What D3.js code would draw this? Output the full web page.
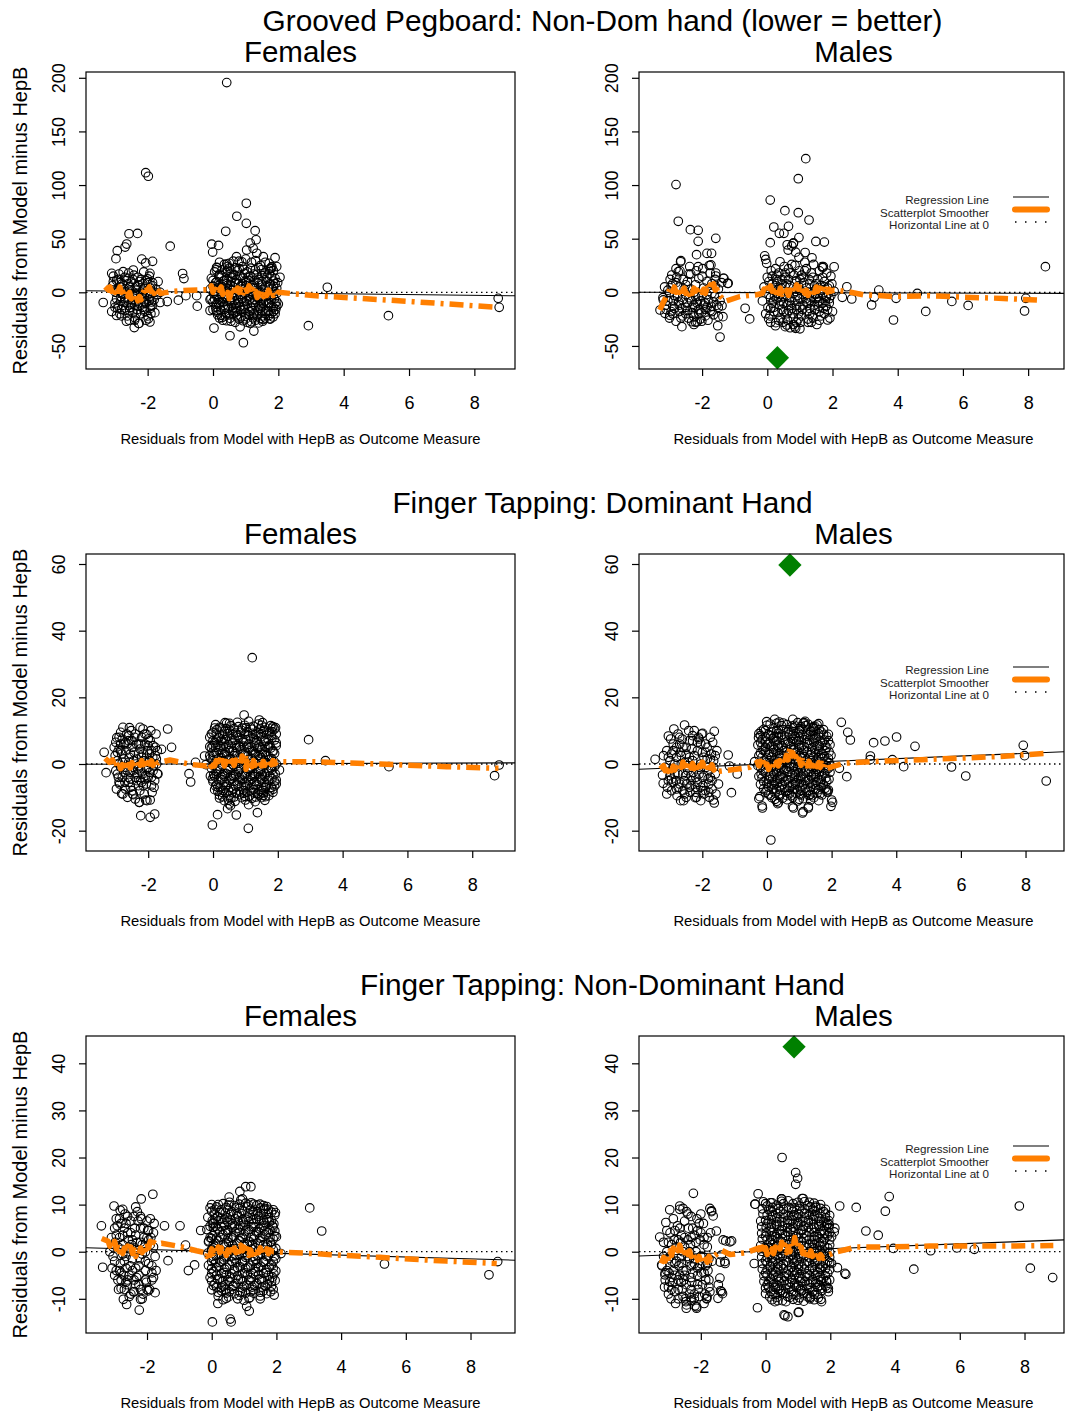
<!DOCTYPE html>
<html>
<head>
<meta charset="utf-8">
<script src="https://cdn.jsdelivr.net/npm/d3@7"></script>
<style>
  body { margin: 0; background: #fff; }
  svg { display: block; }
</style>
</head>
<body>
<svg id="fig" width="1065" height="1414"></svg>
<script>
// ---------- labels and ticks ----------
const rowTitles = [
  "Grooved Pegboard: Non-Dom hand (lower = better)",
  "Finger Tapping: Dominant Hand",
  "Finger Tapping: Non-Dominant Hand"
];
const sexLabels = ["Females", "Males"];
const yTitle = "Residuals from Model minus HepB";
const xTitle = "Residuals from Model with HepB as Outcome Measure";
const legendLabels = ["Regression Line", "Scatterplot Smoother", "Horizontal Line at 0"];
const xTicks = [-2, 0, 2, 4, 6, 8];
const pegTicks = [-50, 0, 50, 100, 150, 200];
const tapDomTicks = [-20, 0, 20, 40, 60];
const tapNonTicks = [-10, 0, 10, 20, 30, 40];

// ---------- Grooved Pegboard, females ----------
const femPegPts = [
  [-3.08,6],[-2.95,11],[-2.9,2],[-2.82,-4],[-2.78,8],[-2.7,14],[-2.66,0],[-2.6,-8],[-2.55,5],[-2.5,10],[-2.47,-3],[-2.4,-12],[-2.36,2],[-2.3,7],[-2.25,-6],[-2.2,12],[-2.16,-1],[-2.1,4],[-2.05,-10],[-2.0,9],[-1.95,-4],[-1.9,1],[-1.85,6],[-1.8,-7],[-1.75,3],[-1.7,-2],[-1.68,10],
  [-3.0,-10],[-2.92,-15],[-2.85,-20],[-2.75,-12],[-2.7,-17],[-2.62,-22],[-2.52,-14],[-2.45,-19],[-2.38,-24],[-2.32,-16],[-2.22,-20],[-2.15,-14],[-2.08,-18],[-2.0,-22],[-1.92,-15],[-1.85,-12],[-1.78,-19],
  [-3.05,15],[-2.88,17],[-2.58,18],[-2.42,16],[-2.12,19],[-1.95,15],[-2.65,-27],[-2.28,-29],
  [-2.98,0],[-2.72,3],[-2.48,-7],[-2.28,-10],[-2.05,0],[-1.88,-9],[-2.55,-1],[-2.82,-8],
  [-2.9,12],[-2.6,13],[-2.3,14],[-2.0,12.5],[-2.85,5],[-2.6,8],[-2.35,5],[-2.15,8],[-1.92,4],[-2.95,-6],[-2.7,-6],[-2.4,-4],[-2.15,-5],[-1.95,-7.5],[-3.0,-14],[-2.8,-16],[-2.55,-17],[-2.35,-20],[-2.1,-16],[-1.9,-20],[-2.8,-1],[-2.4,-1],[-2.1,-4],[-2.6,-12],[-2.2,-12],
  [-3.05,10],[-2.85,9],[-2.65,11],[-2.45,12],[-2.25,10],[-2.05,11],[-1.85,9],[-2.95,2],[-2.75,-2],[-2.55,2],[-2.35,-2],[-2.15,2],[-1.95,-1],[-1.78,0],[-2.9,-12],[-2.7,-9],[-2.5,-11],[-2.3,-13],[-2.1,-9],[-1.9,-13],[-2.8,-22],[-2.4,-26],[-2.05,-26],
  [0.35,26],[0.62,29],[0.9,24],[1.18,28],[1.45,25],[1.72,27],[1.0,31],
  [0.05,19],[0.28,21],[0.55,18],[0.8,22],[1.05,19],[1.3,21],[1.58,18],[1.85,20],[1.95,24],
  [-0.05,13],[0.18,15],[0.42,12],[0.68,16],[0.92,13],[1.15,15],[1.4,12],[1.65,14],[1.9,13],
  [0.08,9],[0.3,7],[0.55,10],[0.78,8],[1.02,9],[1.25,7],[1.5,10],[1.75,8],[1.98,9],
  [-0.08,3],[0.15,4],[0.38,2],[0.62,5],[0.88,3],[1.1,4],[1.35,2],[1.6,5],[1.82,3],
  [0.02,-1],[0.25,-2],[0.5,0],[0.72,-3],[0.98,-1],[1.22,-2],[1.45,0],[1.7,-3],[1.95,-1],
  [-0.06,-6],[0.18,-7],[0.4,-5],[0.65,-8],[0.9,-6],[1.12,-7],[1.38,-5],[1.62,-8],[1.88,-6],
  [0.1,-11],[0.32,-12],[0.58,-10],[0.82,-13],[1.05,-11],[1.3,-12],[1.55,-10],[1.78,-13],[2.0,-11],
  [0.0,-16],[0.24,-17],[0.48,-15],[0.74,-18],[0.96,-16],[1.2,-17],[1.45,-15],[1.7,-18],[1.92,-16],
  [0.14,-21],[0.38,-22],[0.62,-20],[0.86,-23],[1.1,-21],[1.35,-22],[1.6,-20],[1.84,-23],
  [0.3,-26],[0.55,-27],[0.8,-25],[1.05,-28],[1.3,-26],[1.52,-27],[1.75,-25],
  [0.45,24],[0.75,20],[1.1,11],[0.3,-9],[1.4,-4],[0.85,6],[1.6,-24],[0.2,-24],[1.9,-20],[1.25,17],[0.6,14],[1.5,-13],[0.7,-15],[0.95,-9],[1.15,1],[0.35,11],
  [0.12,23],[0.5,22.5],[0.95,21.5],[1.4,23],[1.75,22],[0.2,17],[0.62,16.5],[0.98,17.5],[1.35,16.8],[1.72,17.2],[0.4,18.5],
  [0.0,11],[0.32,10.5],[0.72,11.8],[1.0,10.8],[1.28,11.2],[1.6,11.6],[1.85,10.5],[0.15,6],[0.45,6.5],[0.88,5.5],[1.2,6.2],[1.5,6.8],[1.85,5.8],
  [0.05,1],[0.28,0.5],[0.58,1.8],[0.8,0.3],[1.05,1.5],[1.32,-0.3],[1.58,1.2],[1.88,0.6],[0.12,-4],[0.35,-3.5],[0.6,-4.8],[0.85,-3.8],[1.08,-4.2],[1.5,-3.6],[1.78,-4.5],
  [0.0,-9],[0.22,-9.5],[0.5,-8.5],[0.78,-9.8],[1.2,-9.2],[1.45,-8.2],[1.72,-9.6],[1.95,-8.8],[0.08,-14],[0.38,-13.8],[0.62,-14.5],[0.92,-13.5],[1.18,-14.8],[1.4,-13],[1.85,-14.2],
  [0.12,-18.5],[0.42,-19.5],[0.68,-18.8],[1.0,-19.2],[1.25,-19.8],[1.5,-18.2],[1.78,-19.5],[0.28,-23.5],[0.52,-24.2],[0.75,-23],[1.0,-24.8],[1.22,-23.8],[1.45,-24.5],
  [0.2,28],[0.5,27],[0.8,29],[1.3,29.5],[1.6,28],[0.1,21],[0.45,20.5],[0.68,23],[1.15,22.5],[1.48,21],[1.8,22.5],
  [0.25,15.5],[0.52,14.5],[0.82,15.2],[1.08,13.8],[1.5,15.5],[1.78,15],[0.12,10],[0.42,8.2],[0.68,9.2],[0.9,8],[1.38,8.5],[1.65,9.8],[1.9,8],
  [0.0,5.5],[0.25,5.5],[0.52,3.5],[0.75,2.2],[1.0,6.2],[1.28,4.5],[1.72,5.2],[1.95,3.8],[0.12,-1.8],[0.4,-2.2],[0.62,-0.8],[0.88,-1.9],[1.12,-0.5],[1.38,-2.8],[1.62,-1.2],[1.85,-2.2],
  [0.05,-6.5],[0.3,-5.8],[0.55,-6.8],[0.78,-6.2],[1.02,-7.8],[1.28,-6.8],[1.52,-6.2],[1.78,-7],[0.18,-11.5],[0.45,-12.5],[0.7,-11],[0.98,-12.8],[1.22,-11],[1.48,-11.8],[1.7,-10.8],[1.95,-13],
  [0.1,-17],[0.35,-16],[0.6,-17.5],[0.85,-16.5],[1.12,-18],[1.38,-16.8],[1.62,-17.2],[1.85,-18],[0.25,-21.5],[0.5,-21],[0.72,-21.8],[0.98,-22.5],[1.25,-21],[1.5,-22],[1.72,-21.5],
  [0.42,-26.5],[0.68,-28],[0.92,-26.5],[1.18,-27.5],[1.4,-28.5],
  [0.42,195.5],[-2.06,111.5],[-1.98,108.2],[1.02,83],[0.73,70.9],[1.02,64.3],[0.39,56.9],[1.29,57.5],[1.32,49],[1.14,45.9],[-0.04,44.9],[-0.01,37.5],[0.17,43.7],
  [-2.57,54.6],[-2.31,54.9],[-2.64,45],[-2.69,42.2],[-2.93,38.8],[-2.97,31.4],[-1.31,43],[-2.18,31],[-1.85,28.9],[-2.06,27.4],[-0.93,17.5],[-0.89,12.8],
  [3.5,4.7],[2.05,14],[1.9,32.3],[1.77,22.4],[8.73,-5.6],[8.76,-14],[5.37,-21.8],[2.92,-31.1],[0.03,-33.3],[0.52,-40.5],[0.93,-47],[1.25,-36.1],
  [-2.41,-32.9],[-3.36,-9.5],[-0.48,-12.9],[-1.06,-7.3],[-1.4,-8.6],[-1.62,-9.5],[-0.83,-3.1],[-0.5,-3.1],[-0.09,-6.8],[-0.09,-17],
  [-1.93,-27.7],[-1.98,-24.6],[-2.26,-29],[-2.56,-26],[-2.95,-21.6],[-3.1,-18],[1.74,-24.6],[1.9,-10.3],[1.54,-25.3],[0.83,-32.2],[1.14,-29],[-1.62,0],
  [-3.1,17.7],[-2.75,19.2],[-2.44,20.8],[-1.93,17.7],[0.42,26.4],[0.11,23.3],[1.54,33.2],[1.34,36.4],[1.23,41],[1.03,39.4],[0.72,33.2],[0.88,28.5],[1.69,20.8],[1.8,23.9]
];
const femPegFit = [0.1, -0.36];
const femPegSmooth = [
  [-3.3,5.2],[-3.2,2],[-3.15,5],[-3.1,1],[-3.05,4],[-3.0,0],[-2.95,4],[-2.9,1],[-2.85,5],[-2.8,0],[-2.75,3],[-2.7,-2],[-2.65,2],[-2.6,-4],[-2.55,0],[-2.5,-6],[-2.45,-2],[-2.4,-7],[-2.35,-3],[-2.3,-8],[-2.25,-4],[-2.2,-7],[-2.15,-1],[-2.1,2],[-2.05,6],[-2.0,2],[-1.95,5],[-1.9,1],[-1.85,4],[-1.8,-1],[-1.75,2],[-1.7,-2],[-1.65,1],[-1.6,-1],
  [-1.2,1],[-0.7,2],[-0.2,2.5],
  [-0.1,2],[-0.05,6],[0,0],[0.05,5],[0.1,1],[0.15,6],[0.2,2],[0.25,5],[0.3,-2],[0.35,3],[0.4,-4],[0.45,0],[0.5,-6],[0.55,-1],[0.6,-4],[0.65,2],[0.7,-2],[0.75,4],[0.8,0],[0.85,3],[0.9,-3],[0.95,2],[1.0,5],[1.05,1],[1.1,6],[1.15,0],[1.2,3],[1.25,-2],[1.3,1],[1.35,-5],[1.4,-1],[1.45,-5],[1.5,-2],[1.55,-4],[1.6,1],[1.65,-3],[1.7,2],[1.75,-2],[1.8,1],[1.85,-3],[1.9,0],[1.95,-2],[2.0,0],
  [3.06,-3],[6.12,-8.7],[8.72,-14]
];

// ---------- Grooved Pegboard, males ----------
const malePegPts = [
  [-3.2,-5],[-3.1,-12],[-3.05,2],[-2.95,-18],[-2.9,8],[-2.85,-3],[-2.78,14],[-2.72,-9],[-2.68,20],[-2.6,-22],[-2.55,3],[-2.5,-14],[-2.45,10],[-2.4,-5],[-2.35,17],[-2.3,-19],[-2.25,0],[-2.2,7],[-2.15,-10],[-2.1,13],[-2.05,-25],[-2.0,-3],[-1.95,4],[-1.9,-16],[-1.85,10],[-1.8,-7],[-1.75,18],[-1.7,-1],[-1.65,-21],[-1.6,6],[-1.55,-12],[-1.5,3],[-1.45,-8],[-1.4,9],
  [-3.0,-24],[-2.8,-27],[-2.62,-15],[-2.42,-24],[-2.22,-14],[-2.02,-19],[-1.82,-26],[-1.62,-4],
  [-3.15,5],[-2.98,12],[-2.8,22],[-2.58,12],[-2.38,24],[-2.18,20],[-1.98,22],[-1.78,25],[-1.58,18],
  [-2.88,-8],[-2.7,5],[-2.5,-2],[-2.32,-8],[-2.12,-4],[-1.92,-10],[-1.72,-13],[-2.62,-32],[-2.25,-30],
  [-3.0,0],[-2.75,-4],[-2.5,7],[-2.25,-12],[-2.0,15],[-1.75,-17],[-1.5,-14],[-2.9,-13],[-2.6,-7],[-2.35,3],[-2.1,-20],[-1.85,-2],[-1.6,12],[-2.95,6],[-2.7,-18],[-2.45,-17],[-2.2,-4],[-1.95,-12],[-1.7,8],[-2.4,17],[-2.8,9],[-3.1,-16],
  [-2.9,-20],[-2.7,-12],[-2.5,-20],[-2.3,-14],[-2.1,-16],[-1.9,-22],[-1.7,-18],[-3.05,-8],[-2.85,-15],[-2.65,-24],[-2.45,-10],[-2.25,-23],[-2.05,-8],[-1.85,-14],[-1.65,-9],
  [-0.15,-8],[-0.1,5],[-0.05,-20],[0.0,14],[0.05,-2],[0.1,-28],[0.15,8],[0.2,-14],[0.25,22],[0.3,-6],[0.35,1],[0.4,-24],[0.45,12],[0.5,-10],[0.55,18],[0.6,-3],[0.65,-17],[0.7,6],[0.75,26],[0.8,-30],[0.85,-7],[0.9,11],[0.95,-20],[1.0,2],[1.05,16],[1.1,-12],[1.15,-1],[1.2,22],[1.25,-25],[1.3,8],[1.35,-5],[1.4,14],[1.45,-16],[1.5,3],[1.55,-9],[1.6,20],[1.65,-22],[1.7,-2],[1.75,10],[1.8,-13],[1.85,4],[1.9,-6],[1.95,15],[2.0,-18],[2.05,1],
  [0.02,-14],[0.12,20],[0.22,-4],[0.32,-19],[0.42,4],[0.52,24],[0.62,-26],[0.72,-12],[0.82,16],[0.92,-3],[1.02,-28],[1.12,9],[1.22,-18],[1.32,-8],[1.42,26],[1.52,-30],[1.62,6],[1.72,-15],[1.82,18],[1.92,-24],
  [0.08,-22],[0.18,2],[0.28,12],[0.38,-12],[0.48,-28],[0.58,8],[0.68,-8],[0.78,-20],[0.88,3],[0.98,20],[1.08,-16],[1.18,-6],[1.28,12],[1.38,-22],[1.48,-2],[1.58,-13],[1.68,24],[1.78,-8],[1.88,-1],[1.98,8],
  [0.3,16],[0.55,-32],[0.85,25],[1.15,28],[1.35,-28],[0.7,-33],[1.0,-34],[0.45,-16],[1.6,-26],[0.15,-10],[0.95,6],[1.25,0],[0.65,0],[1.55,12],
  [0.05,10],[0.3,-1],[0.55,5],[0.75,-15],[1.0,12],[1.25,-10],[1.5,8],[1.75,-20],[1.95,-3],[0.2,-18],[0.45,8],[0.7,18],[0.95,-25],[1.2,4],[1.45,-12],[1.7,14],[1.9,-10],[0.15,15],[0.4,-8],[0.6,-20],
  [0.85,10],[1.1,-2],[1.35,18],[1.6,-8],[1.85,-16],[0.1,-5],[0.35,-26],[0.65,12],[0.9,-12],[1.15,20],[1.4,-24],[1.65,2],[1.0,-6],[0.5,-4],[1.3,-15],[0.25,6],[0.8,-1],[1.55,-4],[1.75,5],[0.55,14],
  [0.1,-15],[0.3,10],[0.5,-18],[0.7,-5],[0.9,-16],[1.1,14],[1.3,-20],[1.5,-6],[1.7,-10],[1.9,6],[0.2,-8],[0.4,-2],[0.6,-12],[0.8,-24],[1.0,-14],[1.2,-9],[1.4,-1],[1.6,-18],[1.8,-4],[0.35,18],[0.65,22],[1.05,-22],[1.45,6],[1.25,-28],[0.9,-28],
  [1.18,124.6],[0.95,105.9],[-2.8,100.4],[0.09,86],[0.54,76.1],[0.95,74.2],[1.28,67.4],[-2.73,66.2],[0.2,60.9],[0.65,61.5],[0.37,55],[0.51,55],[0.97,51],[0.09,46.3],[1.49,47.4],[1.75,46.8],[0.61,44.3],[0.8,46],[0.87,37.4],[1.16,37.1],[1.37,32.2],
  [-2.36,58.4],[-2.12,57.8],[-2.12,47.5],[-1.58,50.3],[-2.17,35.1],[-1.85,36.3],[-1.71,36.3],[-2.65,29.5],[-0.08,34],[-0.05,30.7],[1.7,23],[2.05,23.8],[2.44,5.2],
  [3.42,2.1],[4.6,-1],[3.2,-11.8],[3.87,-25.8],[4.86,-17.8],[5.66,-8.5],[6.16,-12.2],[7.93,-5.6],[7.89,-17.4],[8.53,23.9],[3.95,-5.6],[3.28,-4.7],[2.59,-6.2],[2.3,-4.7],[1.85,-25.8],
  [-0.68,-14.9],[-0.54,-24.8],[-1.45,-41.7],[-1.52,-31.2],[-3.19,-7.1],[-2.99,-21.4],[-2.2,-27.9],[-2.01,-27],[-1.36,-22.7],[-1.39,-12.5],[-1.22,8.3],[-1.35,13],[-1.58,15.2],[0.25,-31.2],[0.84,-32.2],[0.04,-24.5],[1.81,-5],
  [-2.66,28.5],[-1.73,25.5],[-2.93,16.1],[-2.73,19.2],[-2.12,23.9],[-1.33,13],[-1.2,8.4],[-1.5,-22.7],[-3.29,-16.5],[-3.14,-19.6],[-2.32,-27.4],[-2.15,-27.4],[0.75,43.2],[0.8,45.5],[0.64,39.4],[0.97,32.6],[-0.02,27],[0.39,28.5],[1.72,23.9],[0.6,-30.5],[0.87,-33.6],[0.26,-28.3]
];
const malePegFit = [-0.3, -0.08];
const malePegSmooth = [
  [-3.3,-16.5],[-3.2,-10],[-3.1,-4],[-3.0,2],[-2.95,5],[-2.9,1],[-2.85,5],[-2.8,0],[-2.75,4],[-2.7,0],[-2.65,5],[-2.6,1],[-2.55,4],[-2.5,-1],[-2.45,3],[-2.4,-2],[-2.35,2],[-2.3,-1],[-2.25,4],[-2.2,1],[-2.15,5],[-2.1,0],[-2.05,4],[-2.0,0],[-1.95,3],[-1.9,-1],[-1.85,4],[-1.8,2],[-1.75,7],[-1.7,3],[-1.65,8],[-1.6,2],[-1.55,3],[-1.5,-2],[-1.4,-5],[-1.3,-8.5],
  [-0.84,-3.9],[-0.33,-2.3],
  [-0.15,-1],[-0.1,3],[-0.05,-1],[0.0,4],[0.05,0],[0.1,6],[0.15,1],[0.2,5],[0.25,0],[0.3,4],[0.35,-1],[0.4,4],[0.45,-2],[0.5,3],[0.55,-2],[0.6,2],[0.65,-3],[0.7,2],[0.75,-2],[0.8,4],[0.85,1],[0.9,7],[0.95,3],[1.0,8],[1.05,2],[1.1,5],[1.15,-1],[1.2,2],[1.25,-3],[1.3,1],[1.35,-2],[1.4,3],[1.45,0],[1.5,5],[1.55,1],[1.6,4],[1.65,0],[1.7,3],[1.75,0],[1.8,3],[1.85,0],[1.9,3],[1.95,1],[2.05,2],
  [2.43,0.8],[2.95,-2.3],[3.87,-3.9],[4.99,-3.2],[6.01,-4.5],[7.24,-5.7],[8.42,-7.5]
];
const malePegMark = [0.31, -61];

// ---------- Finger Tapping dominant, females ----------
const femTapDomPts = [
  [-3.05,5],[-3.0,-2],[-2.95,1],[-2.9,8],[-2.88,-6],[-2.82,3],[-2.78,-9],[-2.75,6],[-2.7,-1],[-2.66,9],[-2.62,-4],[-2.58,2],[-2.55,-7],[-2.5,5],[-2.46,-2],[-2.42,8],[-2.38,0],[-2.35,-5],[-2.3,3],[-2.26,-8],[-2.22,6],[-2.18,-3],[-2.14,1],[-2.1,9],[-2.06,-6],[-2.02,4],[-1.98,-1],[-1.94,7],[-1.9,-4],[-1.86,2],[-1.82,-7],[-1.78,5],[-1.74,0],[-1.7,-3],
  [-3.02,2.5],[-2.92,-4],[-2.8,0.5],[-2.68,4],[-2.56,-2.5],[-2.44,3.5],[-2.32,-1.5],[-2.2,2],[-2.08,-3.5],[-1.96,3],[-1.84,-0.5],[-1.72,4],
  [-2.98,-7.5],[-2.85,9.5],[-2.72,-5.5],[-2.6,7],[-2.48,-9],[-2.36,6],[-2.24,-5],[-2.12,-9],[-2.0,7.5],[-1.88,-8.5],[-1.76,9],
  [-2.9,4.5],[-2.64,-10],[-2.4,-10.5],[-2.16,10.5],[-1.92,10],[-2.78,11],[-2.52,10],[-2.28,-11.5],[-2.04,-11],
  [-3.0,6.5],[-2.85,4],[-2.65,6],[-2.45,1],[-2.25,4.5],[-2.05,2],[-1.85,5.5],[-2.95,-3],[-2.75,-2.5],[-2.55,-4.5],[-2.35,-3],[-2.15,-6.5],[-1.95,-2.5],[-1.8,-5],[-2.9,-5.5],
  [-2.7,-7.5],[-2.5,-8],[-2.3,-6.5],[-2.1,-4.5],[-1.9,-6.5],[-2.8,7.5],[-2.6,8.5],[-2.4,9],[-2.2,8],[-2.0,5.5],[-2.9,0],[-2.6,0.5],[-2.3,-0.5],[-2.0,0.5],[-1.75,1.5],
  [-2.95,3.5],[-2.75,1.5],[-2.55,3],[-2.35,1.5],[-2.15,3],[-1.95,1],[-1.78,2.5],[-2.85,-1],[-2.65,-2],[-2.45,-1],[-2.25,-2],[-2.05,-1.5],[-1.85,-2],[-2.8,-4],[-2.6,-5.5],[-2.4,-4],[-2.2,-5.5],[-2.0,-4],[-2.7,6.5],[-2.5,7],[-2.3,6],[-2.1,6],[-1.9,4],[-2.85,6],
  [0.2,11],[0.55,11.5],[0.9,10.8],[1.25,11.3],[1.6,11],[0.75,12.5],[1.1,12.8],
  [0.0,9.5],[0.35,9.8],[0.7,9.3],[1.05,9.7],[1.4,9.2],[1.75,9.6],[1.9,10.5],
  [-0.1,8],[0.18,7.8],[0.45,8.3],[0.8,8],[1.15,7.7],[1.5,8.2],[1.82,7.9],
  [0.05,6.4],[0.3,6.7],[0.6,6.3],[0.95,6.6],[1.3,6.4],[1.62,6.8],[1.95,6.3],
  [-0.05,4.8],[0.22,5.1],[0.5,4.7],[0.82,5.2],[1.12,4.9],[1.45,5.1],[1.78,4.8],
  [0.1,3.3],[0.38,3.6],[0.68,3.2],[1.0,3.5],[1.3,3.3],[1.6,3.6],[1.9,3.2],
  [-0.08,1.7],[0.25,1.9],[0.55,1.6],[0.85,2.0],[1.18,1.7],[1.48,1.9],[1.8,1.6],
  [0.05,0.2],[0.38,0.4],[0.7,0.0],[1.02,0.3],[1.32,0.1],[1.65,0.4],[1.95,0.0],
  [-0.05,-1.3],[0.22,-1.5],[0.52,-1.2],[0.85,-1.6],[1.15,-1.3],[1.45,-1.5],[1.78,-1.2],
  [0.1,-3.1],[0.4,-2.8],[0.7,-3.2],[1.0,-2.9],[1.3,-3.1],[1.6,-2.8],[1.92,-3.0],
  [-0.02,-4.5],[0.28,-4.7],[0.58,-4.4],[0.9,-4.8],[1.2,-4.5],[1.5,-4.7],[1.82,-4.4],
  [0.12,-6.1],[0.42,-6.3],[0.75,-6.0],[1.05,-6.4],[1.35,-6.1],[1.65,-6.3],[1.95,-6.0],
  [0.05,-7.7],[0.32,-7.9],[0.62,-7.6],[0.95,-8.0],[1.25,-7.7],[1.55,-7.9],[1.85,-7.6],
  [0.2,-9.3],[0.5,-9.5],[0.82,-9.2],[1.12,-9.6],[1.42,-9.3],[1.72,-9.5],
  [0.35,-11],[0.68,-11.2],[1.0,-10.8],[1.3,-11.3],[1.6,-10.9],
  [0.12,10.3],[0.5,10.2],[0.88,10.1],[1.22,10.4],[1.58,10.2],[0.3,8.9],[0.62,8.8],[0.98,8.9],[1.32,8.7],[1.65,8.9],[0.15,5.9],[0.48,5.8],[0.78,5.7],[1.1,5.9],[1.42,5.8],[1.75,5.7],
  [0.02,2.6],[0.35,2.7],[0.65,2.5],[0.98,2.6],[1.3,2.8],[1.62,2.5],[0.18,-0.6],[0.5,-0.7],[0.82,-0.5],[1.15,-0.8],[1.5,-0.6],[1.8,-0.5],
  [0.05,-3.8],[0.35,-3.7],[0.65,-3.9],[0.98,-3.6],[1.28,-3.8],[1.6,-3.7],[0.22,-6.9],[0.55,-7.0],[0.88,-6.8],[1.2,-7.1],[1.5,-6.9],[1.8,-7.0],[0.4,-8.6],[0.72,-8.7],[1.05,-8.5],[1.38,-8.8],
  [0.08,11.8],[0.42,12.2],[0.98,11.6],[1.4,12],[1.78,11.5],[0.25,10.8],[0.65,10.6],[1.02,10.9],[1.45,10.5],[1.82,10.7],[-0.05,9],[0.52,9.3],[0.85,9.5],[1.22,9.2],[1.55,9.7],[1.95,9],
  [0.1,7.2],[0.38,7.4],[0.68,7.1],[1.02,7.3],[1.35,7],[1.7,7.4],[0.0,5.5],[0.32,5.3],[0.68,5.6],[0.95,5.4],[1.28,5.6],[1.6,5.3],[1.95,5.5],[0.18,4.1],[0.5,4.0],[0.85,4.3],[1.18,4.1],[1.5,4.3],[1.85,4.0],
  [-0.1,2.5],[0.42,2.4],[0.75,2.6],[1.08,2.4],[1.42,2.6],[1.72,2.3],[0.0,1.0],[0.3,1.0],[0.62,0.8],[0.95,1.1],[1.25,0.9],[1.58,1.1],[1.88,0.8],[0.1,-2.2],[0.45,-2.0],[0.78,-2.3],[1.08,-2.1],[1.4,-2.3],[1.72,-2.0],
  [-0.08,-3.6],[0.25,-3.9],[0.55,-3.6],[0.82,-4.0],[1.15,-3.7],[1.45,-3.9],[1.75,-3.6],[0.0,-5.3],[0.35,-5.5],[0.65,-5.2],[0.98,-5.5],[1.28,-5.3],[1.58,-5.5],[1.9,-5.2],[0.15,-7.0],[1.62,-7.1],
  [0.28,-8.5],[0.6,-8.4],[0.95,-8.8],[1.25,-8.6],[1.55,-8.7],[1.85,-8.5],[0.2,-10.2],[0.55,-10.4],[0.88,-10.1],[1.2,-10.3],[1.5,-10.1],[0.5,-12],[1.1,-12.2],
  [0.05,10.8],[0.4,10.6],[0.78,11.2],[1.15,11.0],[1.5,11.6],[1.85,11.2],[0.1,9.0],[0.45,9.1],[0.75,8.6],[1.1,8.5],[1.45,8.8],[1.8,8.6],
  [0.0,7.0],[0.25,7.1],[0.58,7.6],[0.9,7.4],[1.25,7.5],[1.58,7.0],[1.9,7.2],[0.08,5.0],[0.4,5.3],[0.72,4.9],[1.05,5.0],[1.38,4.7],[1.7,5.2],
  [0.0,3.6],[0.3,3.2],[0.6,3.8],[0.92,3.0],[1.22,3.7],[1.52,3.0],[1.85,3.7],[0.12,1.4],[0.45,1.2],[0.78,1.4],[1.1,1.3],[1.42,1.5],[1.72,1.2],
  [0.0,-0.4],[0.28,-0.2],[0.62,-0.3],[0.95,-0.2],[1.25,-0.4],[1.58,-0.2],[1.9,-0.8],[0.15,-1.9],[0.48,-1.6],[0.8,-1.8],[1.12,-1.6],[1.48,-1.9],[1.82,-1.7],
  [0.02,-3.3],[0.3,-3.2],[0.62,-3.4],[0.9,-3.3],[1.22,-3.4],[1.52,-3.3],[1.85,-3.2],[0.18,-5.0],[0.5,-4.9],[0.8,-5.1],[1.1,-4.9],[1.42,-5.2],[1.72,-4.9],
  [0.08,-6.6],[0.38,-6.8],[0.7,-6.6],[1.0,-6.8],[1.3,-6.6],[1.62,-6.7],[1.9,-6.6],[0.15,-8.2],[0.48,-8.0],[0.82,-8.3],[1.15,-8.1],[1.45,-8.2],[1.75,-8.1],
  [0.3,-9.8],[0.65,-9.9],[0.98,-9.7],[1.32,-9.9],[1.62,-9.8],
  [1.21,31.9],[0.96,14.7],[-1.4,10.5],[2.95,7.3],[3.47,1],[5.43,-0.8],[8.83,-0.3],[8.69,-3.5],[-0.74,-2.9],[-0.69,-5.4],[-0.54,0.5],[-0.22,-0.2],[-3.36,3.5],[-3.3,-2.6],
  [-0.02,-18.3],[0.14,-15.2],[0.45,-13.4],[0.72,-15.3],[1.09,-19.3],[1.37,-14.6],[0.48,-10.8],[0.54,-12.5],[1.55,-9.4],
  [-2.23,-15.5],[-1.94,-16],[-1.8,-15],[-2.27,-11.5],[-2.08,-10.8],[-1.94,-10.8],[-2.46,-9.2],[-2.82,-8.9],
  [-2.58,10.9],[-2.25,11],[-2.05,8.9],[-2.97,7.9],[-1.28,5],[-1.59,4.4],[-1.72,-2.9],
  [0.37,12.4],[0.51,12.2],[1.43,13.2],[1.53,12.4],[1.93,10.9],[1.82,9.7],[0.17,8],[-0.1,5.2],[-0.26,2.4],[2.05,-1.8],[1.95,-4.8]
];
const femTapDomFit = [0.05, 0.03];
const femTapDomSmooth = [
  [-3.33,1.7],[-3.2,0.5],[-3.1,1.2],[-3.05,-0.4],[-3.0,0.6],[-2.95,-1],[-2.9,0.2],[-2.85,-1.4],[-2.8,-0.2],[-2.75,-1.8],[-2.7,-0.4],[-2.65,-1.6],[-2.6,-0.2],[-2.55,-1.2],[-2.5,0.4],[-2.45,-0.8],[-2.4,0.6],[-2.35,-0.6],[-2.3,0.8],[-2.25,-0.4],[-2.2,1],[-2.15,-0.2],[-2.1,1.4],[-2.05,0.2],[-2.0,1.4],[-1.95,0],[-1.9,1],[-1.85,-0.4],[-1.8,0.6],[-1.75,-0.4],[-1.7,0.4],
  [-1.33,1.2],[-0.71,-0.1],[-0.2,-0.6],
  [-0.1,0.4],[-0.05,-0.8],[0.0,0.8],[0.05,-0.6],[0.1,1.0],[0.15,-0.4],[0.2,1.2],[0.25,-0.2],[0.3,1.0],[0.35,-0.6],[0.4,0.8],[0.45,-0.8],[0.5,0.6],[0.55,-0.6],[0.6,1.0],[0.65,-0.4],[0.7,1.2],[0.75,-0.2],[0.8,1.4],[0.85,0],[0.9,2.4],[0.95,1.2],[1.0,3.0],[1.02,-1.6],[1.05,0.8],[1.1,-1.0],[1.15,0.8],[1.2,-0.8],[1.25,1.0],[1.3,-0.4],[1.35,1.0],[1.4,-0.6],[1.45,0.8],[1.5,-0.6],[1.55,0.8],[1.6,-0.4],[1.65,1.0],[1.7,-0.4],[1.75,0.8],[1.8,-0.2],[1.85,1.0],[1.9,0],[1.97,0.7],
  [3.1,0.7],[5.15,0],[7.21,-0.8],[8.81,-1.3]
];

// ---------- Finger Tapping dominant, males ----------
const maleTapDomPts = [
  [-3.15,-1],[-3.1,4],[-3.05,-5],[-3.0,1],[-2.95,-8],[-2.9,6],[-2.85,-3],[-2.8,2],[-2.75,9],[-2.7,-6],[-2.65,0],[-2.6,5],[-2.55,-9],[-2.5,3],[-2.45,-2],[-2.4,7],[-2.35,-5],[-2.3,1],[-2.25,10],[-2.2,-7],[-2.15,4],[-2.1,-1],[-2.05,6],[-2.0,-4],[-1.95,2],[-1.9,-8],[-1.85,5],[-1.8,-2],[-1.75,8],[-1.7,-5],[-1.65,1],[-1.6,-3],[-1.55,4],[-1.5,-6],
  [-3.08,-7],[-2.92,-1.5],[-2.78,-9.5],[-2.62,7.5],[-2.48,-6],[-2.32,4.5],[-2.18,-10],[-2.02,9],[-1.88,-1],[-1.72,3],[-1.58,-9],
  [-2.98,7.5],[-2.82,-5],[-2.68,3.5],[-2.52,-3.5],[-2.38,-8.5],[-2.28,-2.5],[-2.12,8],[-1.98,-6.5],[-1.82,-4.5],[-1.68,6.5],
  [-2.58,-11],[-2.42,10],[-2.05,-11],[-1.78,-10],[-2.88,10.5],[-3.2,2.5],
  [-3.0,-3.5],[-2.8,5],[-2.6,-3],[-2.4,2],[-2.2,-4],[-2.0,3.5],[-1.8,-6],[-1.6,2.5],[-2.95,3],[-2.75,-7],[-2.55,0.5],[-2.35,-6.5],[-2.15,6.5],[-1.95,-9],[-1.75,1.5],
  [-3.1,-9],[-2.9,-5.5],[-2.7,8],[-2.5,-10],[-2.3,7],[-2.1,-3],[-1.9,6],[-1.7,-7.5],[-2.45,-0.5],[-2.05,-7],
  [-3.05,2],[-2.85,0],[-2.65,2.5],[-2.45,0.5],[-2.25,2.5],[-2.05,0],[-1.85,1.5],[-1.65,-1],[-2.95,-4.5],[-2.75,-3],[-2.55,-5],[-2.35,-3.5],[-2.15,-5.5],[-1.95,-3.5],[-1.75,-4],
  [-2.9,4],[-2.7,6],[-2.5,5],[-2.3,8.5],[-2.1,7.5],[-1.9,3.5],[-2.8,-7.5],[-2.6,-8],[-2.4,-7],[-2.2,-8.5],[-2.0,-8],[-1.8,-8.5],
  [0.3,12.2],[0.62,11.8],[0.95,12.4],[1.28,11.9],[1.6,12.1],
  [-0.1,10.4],[0.2,10.7],[0.5,10.3],[0.82,10.8],[1.12,10.4],[1.45,10.6],[1.75,10.3],
  [-0.25,9.1],[0.05,8.8],[0.35,9.2],[0.68,8.9],[0.98,9.3],[1.3,8.8],[1.6,9.1],[1.9,8.9],
  [-0.15,7.3],[0.18,7.6],[0.5,7.2],[0.82,7.5],[1.15,7.3],[1.45,7.6],[1.78,7.2],
  [-0.28,5.7],[0.02,5.9],[0.33,5.6],[0.65,6.0],[0.98,5.7],[1.3,5.9],[1.62,5.6],[1.95,5.8],
  [-0.12,4.1],[0.2,4.4],[0.5,4.0],[0.82,4.3],[1.15,4.1],[1.48,4.4],[1.8,4.0],
  [-0.25,2.5],[0.05,2.8],[0.38,2.4],[0.7,2.7],[1.02,2.5],[1.35,2.8],[1.65,2.4],[1.98,2.6],
  [-0.1,0.9],[0.22,1.1],[0.55,0.8],[0.88,1.2],[1.2,0.9],[1.52,1.1],[1.85,0.8],
  [-0.28,-0.5],[0.05,-0.7],[0.38,-0.4],[0.7,-0.8],[1.02,-0.5],[1.35,-0.7],[1.68,-0.4],[1.98,-0.6],
  [-0.12,-2.1],[0.2,-2.3],[0.52,-2.0],[0.85,-2.4],[1.18,-2.1],[1.5,-2.3],[1.82,-2.0],
  [-0.25,-3.7],[0.08,-3.9],[0.4,-3.6],[0.72,-4.0],[1.05,-3.7],[1.38,-3.9],[1.7,-3.6],
  [-0.1,-5.3],[0.22,-5.5],[0.55,-5.2],[0.88,-5.6],[1.2,-5.3],[1.52,-5.5],[1.85,-5.2],
  [0.05,-6.9],[0.38,-7.1],[0.7,-6.8],[1.02,-7.2],[1.35,-6.9],[1.68,-7.1],
  [-0.05,-8.5],[0.25,-8.7],[0.58,-8.4],[0.9,-8.8],[1.22,-8.5],[1.55,-8.7],[1.85,-8.4],
  [0.15,-10.1],[0.48,-10.3],[0.8,-10.0],[1.12,-10.4],[1.45,-10.1],
  [0.45,11.5],[1.05,11.2],[0.15,9.6],[0.82,9.7],[1.45,9.8],[0.35,8.2],[1.0,8.1],[1.6,8.3],[0.1,6.6],[0.8,6.7],[1.45,6.5],[0.35,5.0],[1.0,4.9],[1.62,5.1],[0.2,3.4],[0.88,3.5],[1.5,3.3],
  [0.4,1.8],[1.05,1.9],[1.7,1.7],[0.22,0.1],[0.88,0.2],[1.5,0.0],[0.4,-1.4],[1.05,-1.5],[1.65,-1.3],[0.22,-3.0],[0.88,-3.1],[1.52,-2.9],[0.4,-4.6],[1.05,-4.5],[1.68,-4.7],
  [0.22,-6.2],[0.88,-6.1],[1.5,-6.3],[0.42,-7.8],[1.05,-7.9],[0.62,-9.5],[1.3,-9.4],
  [0.0,11.6],[0.38,12.6],[0.78,11.4],[1.18,12.8],[1.48,11.3],[-0.18,9.8],[0.3,10.0],[0.65,9.7],[1.0,10.0],[1.35,9.8],[1.68,9.6],[-0.05,8.2],[0.22,8.1],[0.55,8.4],[0.88,8.2],[1.22,8.4],[1.52,8.0],[1.85,8.3],
  [-0.2,6.5],[0.25,6.7],[0.58,6.5],[0.92,6.7],[1.25,6.4],[1.72,6.6],[-0.05,5.0],[0.2,5.1],[0.5,5.0],[0.82,4.9],[1.15,5.2],[1.4,4.9],[1.85,5.0],[-0.2,3.3],[0.08,3.5],[0.4,3.2],[0.7,3.4],[1.08,3.3],[1.38,3.5],[1.7,3.2],
  [0.0,1.8],[0.32,1.7],[0.7,1.9],[0.95,1.7],[1.32,1.8],[1.6,1.9],[1.9,1.7],[-0.2,0.2],[0.1,0.3],[0.45,0.0],[0.72,0.2],[1.1,0.1],[1.4,0.3],[1.75,0.0],[-0.05,-1.4],[0.3,-1.5],[0.6,-1.3],[0.95,-1.5],[1.3,-1.4],[1.55,-1.5],[1.9,-1.3],
  [-0.18,-3.0],[0.12,-2.9],[0.45,-3.1],[0.78,-2.9],[1.12,-3.0],[1.45,-3.1],[1.78,-2.9],[0.05,-4.6],[0.32,-4.5],[0.65,-4.7],[0.98,-4.5],[1.3,-4.7],[1.6,-4.5],[1.92,-4.6],
  [-0.2,-6.1],[0.15,-6.0],[0.48,-6.2],[0.8,-6.0],[1.12,-6.2],[1.42,-6.0],[1.75,-6.2],[0.0,-7.8],[0.3,-7.7],[0.65,-7.9],[0.95,-7.7],[1.3,-7.9],[1.6,-7.7],[1.9,-7.8],
  [0.1,-9.4],[0.4,-9.3],[0.75,-9.5],[1.05,-9.3],[1.4,-9.5],[1.7,-9.3],[0.3,-11.2],[0.95,-11.1],[1.6,-11.0],
  [0.1,12.0],[0.5,12.3],[0.85,11.6],[1.2,11.5],[1.55,11.7],[-0.05,10.0],[0.35,10.4],[0.68,10.3],[1.0,10.6],[1.3,10.2],[1.62,10.3],
  [-0.2,8.5],[0.12,8.6],[0.45,8.7],[0.78,8.6],[1.1,8.8],[1.42,8.5],[1.75,8.7],[-0.05,6.9],[0.3,7.0],[0.65,6.9],[0.98,7.0],[1.32,7.1],[1.65,6.9],[1.9,7.0],
  [-0.15,5.3],[0.15,5.4],[0.45,5.5],[0.75,5.3],[1.08,5.5],[1.55,5.4],[1.8,5.6],[-0.05,3.7],[0.28,3.8],[0.6,3.6],[0.95,3.8],[1.25,3.7],[1.6,3.8],[1.92,3.6],
  [-0.15,2.0],[0.15,2.1],[0.5,2.1],[0.82,2.2],[1.15,2.2],[1.45,2.1],[1.78,2.2],[0.0,0.5],[0.3,0.6],[0.62,0.5],[0.98,0.6],[1.28,0.5],[1.6,0.6],[1.92,0.4],
  [-0.2,-1.0],[0.15,-1.0],[0.5,-1.1],[0.82,-1.0],[1.15,-1.1],[1.48,-1.0],[1.8,-1.1],[-0.05,-2.6],[0.3,-2.6],[0.65,-2.5],[0.98,-2.6],[1.3,-2.5],[1.62,-2.6],[1.95,-2.5],
  [-0.15,-4.2],[0.18,-4.2],[0.5,-4.1],[0.85,-4.2],[1.18,-4.2],[1.5,-4.1],[1.82,-4.2],[0.0,-5.8],[0.32,-5.8],[0.68,-5.7],[1.0,-5.9],[1.32,-5.8],[1.65,-5.7],
  [-0.1,-7.4],[0.2,-7.4],[0.55,-7.3],[0.85,-7.5],[1.18,-7.4],[1.5,-7.4],[1.8,-7.3],[0.05,-9.0],[0.38,-9.0],[0.7,-8.9],[1.02,-9.0],[1.35,-9.1],[1.65,-8.9],
  [0.25,-10.6],[0.62,-10.7],[1.0,-10.6],[1.35,-10.8],
  [0.12,-22.8],[2.3,12.5],[2.5,9.5],[2.58,7.2],[3.3,6.4],[3.65,6.9],[4.01,8.1],[4.58,5.3],[3.19,1.3],[3.88,1.3],[4.23,-0.8],[5.71,-0.9],[6.15,-3.6],[7.93,5.6],[7.97,2.5],[8.64,-5.1],
  [2.47,-3.8],[2.24,-1.3],[-3.46,1.4],[-3.23,-3.3],[-3.21,-5.8],[-3.05,8.4],[-2.55,11.7],[-1.99,9.2],[-1.63,9.8],[-1.2,2.7],[-1.16,-0.6],[-1.1,-8.6],[-0.92,-3],
  [-2.67,-11],[-1.63,-11.7],[-2.22,-10.1],[-0.38,0.7],[-0.26,7.9],[-0.01,12.7],[0.24,13.4],[-0.25,-10.4],[-0.14,-13.2],[0.33,-11.9],[0.82,-13.2],[1.1,-14.7],[1.28,-13.2],
  [1.98,-12.7],[2.03,-11.5],[1.88,-8.4],[1.43,10.9],[0.8,13.4],[1.15,12.4],
  [3.2,2.4],[-1.66,-10.8],[-0.22,-9.8],[-0.15,-12.6],[0.35,-11.6],[0.79,-12.8],[1.12,-14.3],[1.28,-12.8],[2.0,-10.8],[1.85,-7.8],[1.12,12.2],[1.43,11.2]
];
const maleTapDomFit = [0.0, 0.40];
const maleTapDomSmooth = [
  [-3.3,-1.5],[-3.2,-0.5],[-3.15,-2],[-3.1,-0.6],[-3.05,-2.2],[-3.0,-0.8],[-2.95,-2],[-2.9,-0.6],[-2.85,-1.8],[-2.8,-0.2],[-2.75,-1.4],[-2.7,0.2],[-2.65,-1.0],[-2.6,0.6],[-2.55,-0.6],[-2.5,1.0],[-2.45,-0.4],[-2.4,0.6],[-2.35,-1.2],[-2.3,0.2],[-2.25,-1.4],[-2.2,0.2],[-2.15,-1.0],[-2.1,0.6],[-2.05,-0.8],[-2.0,0.6],[-1.95,-0.6],[-1.9,0.4],[-1.85,-1.0],[-1.8,0.2],[-1.75,-1.2],[-1.7,-0.2],[-1.65,-1.8],[-1.6,-1.0],[-1.5,-2.2],
  [-1.14,-1.8],[-0.53,-1],
  [-0.3,0.6],[-0.25,-0.6],[-0.2,0.8],[-0.15,-0.8],[-0.1,0.4],[-0.05,-1.4],[0.0,0],[0.05,-1.6],[0.1,-0.2],[0.15,-1.4],[0.2,0],[0.25,-1.0],[0.3,0.6],[0.35,-0.6],[0.4,1.0],[0.45,-0.2],[0.5,1.6],[0.55,0.4],[0.6,2.6],[0.65,1.2],[0.7,4.2],[0.73,5.2],[0.76,2.6],[0.8,3.4],[0.85,1.0],[0.9,2.2],[0.95,0.2],[1.0,1.4],[1.05,-0.4],[1.1,1.0],[1.15,-0.6],[1.2,0.8],[1.25,-0.6],[1.3,0.8],[1.35,-0.6],[1.4,0.8],[1.45,-0.6],[1.5,0.6],[1.55,-0.8],[1.6,0.4],[1.65,-1.0],[1.7,0.2],[1.75,-1.2],[1.8,0],[1.85,-1.4],[1.95,-1],
  [2.36,0.2],[3.19,0.7],[5.04,1.4],[7.1,2.2],[8.6,3.2]
];
const maleTapDomMark = [0.71, 59.7];

// ---------- Finger Tapping non-dominant, females ----------
const femTapNonPts = [
  [-3.1,3],[-3.05,-1],[-3.0,5],[-2.95,-4],[-2.9,1],[-2.85,7],[-2.8,-6],[-2.75,3.5],[-2.7,-2],[-2.65,6],[-2.6,0],[-2.55,-5],[-2.5,4],[-2.45,-1.5],[-2.4,7.5],[-2.35,-3.5],[-2.3,2],[-2.25,-7],[-2.2,5],[-2.15,-0.5],[-2.1,3],[-2.05,-4],[-2.0,6.5],[-1.95,-2.5],[-1.9,1.5],[-1.85,-6],[-1.8,4],[-1.75,-1],
  [-3.08,-3.5],[-2.92,5.5],[-2.78,0.5],[-2.62,-7],[-2.48,1.5],[-2.32,-5.5],[-2.18,7],[-2.02,-6.5],[-1.88,3],[-1.72,-4],
  [-2.98,2],[-2.82,-2.5],[-2.68,8],[-2.52,-3],[-2.38,5],[-2.22,-1.5],[-2.08,1],[-1.92,-8],[-1.78,6],
  [-2.88,-8],[-2.72,-5],[-2.58,2.5],[-2.42,-8.5],[-2.28,6.5],[-2.12,-9],[-1.98,4.5],[-2.55,-9.5],[-2.75,9],[-2.35,9.5],[-2.9,-6],[-3.15,0],[-2.65,-1],
  [-3.0,-2],[-2.85,3],[-2.65,-3.5],[-2.45,2.5],[-2.25,-3],[-2.05,0],[-1.85,-3],[-2.95,7],[-2.7,5],[-2.5,6.5],[-2.3,8.5],[-2.1,5],[-1.9,7],[-2.8,-4.5],[-2.6,-6],[-2.4,-6],[-2.2,-8],[-2.0,-8],[-1.8,-5.5],[-2.75,1.5],[-2.35,0.5],[-1.95,2.5],[-3.05,1],[-2.5,-9],[-2.15,-10],
  [-2.95,3.5],[-2.75,-0.5],[-2.55,1],[-2.35,3.5],[-2.15,1.5],[-1.95,4.5],[-1.8,1],[-2.85,-4],[-2.65,-6.5],[-2.45,-4],[-2.25,-5],[-2.05,-2],[-1.85,-4.5],[-3.0,-5],[-2.8,6],[-2.6,4],[-2.4,0],[-2.2,2],[-2.0,3],[-2.7,-8],[-2.35,-7],[-2.05,-6],[-2.6,7.5],[-2.2,7.5],
  [0.35,10.2],[0.7,9.8],[1.05,10.3],[1.4,9.9],[0.9,11],
  [0.0,8.6],[0.3,8.9],[0.62,8.5],[0.95,8.8],[1.28,8.6],[1.6,8.9],[1.85,8.4],
  [-0.12,7.3],[0.18,7.5],[0.48,7.2],[0.8,7.6],[1.12,7.3],[1.45,7.5],[1.75,7.2],
  [0.02,6.0],[0.35,6.2],[0.65,5.9],[0.98,6.3],[1.3,6.0],[1.62,6.2],[1.92,5.9],
  [-0.15,4.7],[0.18,4.9],[0.5,4.6],[0.82,5.0],[1.15,4.7],[1.48,4.9],[1.8,4.6],
  [0.02,3.4],[0.35,3.6],[0.68,3.3],[1.0,3.7],[1.32,3.4],[1.65,3.6],[1.95,3.3],
  [-0.1,2.1],[0.2,2.3],[0.52,2.0],[0.85,2.4],[1.18,2.1],[1.5,2.3],[1.82,2.0],
  [0.05,0.8],[0.38,1.0],[0.7,0.7],[1.02,1.1],[1.35,0.8],[1.68,1.0],[1.98,0.7],
  [-0.12,-0.3],[0.2,-0.5],[0.52,-0.2],[0.85,-0.6],[1.18,-0.3],[1.5,-0.5],[1.82,-0.2],
  [0.05,-1.6],[0.38,-1.8],[0.7,-1.5],[1.02,-1.9],[1.35,-1.6],[1.68,-1.8],[1.98,-1.5],
  [-0.1,-2.9],[0.22,-3.1],[0.55,-2.8],[0.88,-3.2],[1.2,-2.9],[1.52,-3.1],[1.85,-2.8],
  [0.05,-4.2],[0.38,-4.4],[0.7,-4.1],[1.02,-4.5],[1.35,-4.2],[1.68,-4.4],[1.98,-4.1],
  [-0.05,-5.5],[0.25,-5.7],[0.58,-5.4],[0.9,-5.8],[1.22,-5.5],[1.55,-5.7],[1.88,-5.4],
  [0.1,-6.8],[0.42,-7.0],[0.75,-6.7],[1.08,-7.1],[1.4,-6.8],[1.72,-7.0],
  [0.0,-8.1],[0.3,-8.3],[0.62,-8.0],[0.95,-8.4],[1.28,-8.1],[1.6,-8.3],[1.9,-8.0],
  [0.2,-9.4],[0.52,-9.6],[0.85,-9.3],[1.18,-9.7],[1.5,-9.4],
  [0.15,9.5],[0.78,9.4],[1.42,8.0],[0.3,7.0],[0.95,6.8],[1.6,6.7],[0.12,5.4],[0.7,5.5],[1.3,5.3],[1.9,5.2],[0.5,4.1],[1.15,4.2],[1.75,4.1],[0.0,2.8],[0.65,2.9],[1.3,2.7],
  [0.35,1.5],[1.0,1.6],[1.6,1.5],[0.12,0.2],[0.8,0.1],[1.45,0.3],[0.38,-1.1],[1.05,-1.2],[1.7,-1.0],[0.12,-2.4],[0.75,-2.3],[1.4,-2.5],[0.4,-3.7],[1.05,-3.6],[1.7,-3.8],
  [0.15,-5.0],[0.8,-5.1],[1.45,-4.9],[0.55,-6.3],[1.2,-6.2],[1.85,-6.4],[0.3,-7.6],[0.95,-7.7],[1.55,-7.5],[0.7,-8.9],[1.3,-8.8],
  [0.0,10],[0.55,10.5],[1.22,10.4],[1.6,9.8],[-0.05,9.3],[0.45,9.4],[1.1,9.5],[1.7,9.6],[0.08,8.0],[0.42,8.2],[0.78,8.0],[1.12,8.2],[1.6,8.0],[1.95,7.8],[0.02,6.6],[0.6,6.7],[1.28,6.8],[1.85,6.6],
  [-0.05,5.4],[0.4,5.5],[1.0,5.6],[1.6,5.5],[0.25,4.2],[0.85,4.1],[1.45,4.2],[1.95,4.4],[0.15,2.9],[0.5,2.8],[0.95,3.0],[1.5,2.9],[1.9,2.7],[0.05,1.5],[0.65,1.4],[1.25,1.5],[1.85,1.4],
  [0.0,0.2],[0.55,0.3],[1.15,0.2],[1.75,0.4],[0.05,-1.0],[0.65,-0.9],[1.3,-1.0],[1.95,-0.9],[0.25,-2.3],[0.95,-2.4],[1.6,-2.3],[0.0,-3.6],[0.7,-3.7],[1.35,-3.5],[1.9,-3.5],
  [0.45,-4.9],[1.1,-4.9],[1.75,-5.0],[0.0,-6.2],[0.35,-6.2],[0.95,-6.3],[1.55,-6.2],[0.15,-7.5],[0.65,-7.4],[1.25,-7.5],[1.85,-7.3],[0.45,-8.8],[1.05,-8.8],[1.7,-8.9],[0.35,-10.2],[1.0,-10.3],[1.5,-10.0],
  [0.2,10.0],[0.52,9.9],[0.85,10.1],[1.3,10.1],[1.75,9.0],[0.1,9.0],[0.5,9.0],[0.85,9.2],[1.2,9.0],[1.5,9.3],[1.9,8.9],[0.25,8.3],[0.58,7.9],[0.92,8.1],[1.28,7.9],[1.75,8.1],
  [0.1,7.0],[0.4,6.9],[0.72,7.0],[1.05,6.9],[1.38,7.0],[1.7,6.8],[0.2,6.6],[0.5,6.3],[0.82,6.5],[1.15,6.4],[1.48,6.6],[1.78,6.3],
  [0.05,5.2],[0.3,5.3],[0.62,5.2],[0.88,5.5],[1.22,5.3],[1.52,5.2],[1.88,5.5],[0.1,4.2],[0.42,4.4],[0.72,4.2],[1.05,4.4],[1.38,4.2],[1.62,4.4],
  [-0.05,3.0],[0.28,3.0],[0.6,3.1],[0.9,2.8],[1.22,3.0],[1.58,3.1],[1.8,3.0],[0.12,1.8],[0.45,1.6],[0.78,1.8],[1.1,1.6],[1.42,1.8],[1.72,1.6],
  [0.0,0.5],[0.28,0.4],[0.62,0.6],[0.95,0.4],[1.25,0.6],[1.58,0.5],[1.9,0.4],[0.12,-0.8],[0.45,-0.9],[0.75,-0.8],[1.1,-0.8],[1.42,-0.9],[1.75,-0.8],
  [0.0,-2.1],[0.3,-2.0],[0.62,-2.1],[0.95,-2.0],[1.28,-2.1],[1.6,-2.0],[1.9,-2.1],[0.15,-3.4],[0.45,-3.3],[0.8,-3.4],[1.12,-3.3],[1.45,-3.4],[1.78,-3.3],
  [0.0,-4.7],[0.3,-4.6],[0.62,-4.7],[0.95,-4.6],[1.28,-4.7],[1.6,-4.6],[1.92,-4.7],[0.18,-5.9],[0.5,-6.0],[0.82,-5.9],[1.15,-6.0],[1.48,-5.9],[1.78,-6.0],
  [0.05,-7.2],[0.35,-7.3],[0.68,-7.2],[1.0,-7.3],[1.32,-7.2],[1.65,-7.3],[0.2,-8.6],[0.55,-8.5],[0.88,-8.6],[1.2,-8.5],[1.5,-8.6],[1.82,-8.5],[0.45,-9.9],[0.8,-10.0],[1.15,-9.9],
  [-1.82,12.2],[-2.18,11.2],[-3.02,9.7],[-2.83,8.8],[-3.41,5.5],[-1.46,5.5],[-0.98,5.5],[-0.34,4.5],[-0.81,1.4],[-0.09,2.3],[-3.37,-3.3],[-1.35,-1.9],[-0.53,-2.8],[-0.72,-4.0],
  [-2.8,-7.8],[-2.73,-10.1],[-2.63,-11.2],[-2.24,-12.4],[-2.2,-10.1],[-1.96,-8.3],[-1.75,-8.7],[-2.4,-8.5],
  [0.02,-14.9],[0.57,-14.3],[0.6,-14.9],[0.19,-11],[1.08,-11.6],[1.16,-12.6],[0.43,-8.1],[1.93,-9.2],[1.96,-6.1],[2.14,-0.4],
  [3.03,9.3],[3.4,4.4],[5.34,-2.6],[8.57,-4.9],[8.84,-2.1],
  [0.54,11.6],[0.87,12.8],[1.05,13.8],[1.21,13.8],[0.95,11.2],[1.14,9.9],[1.49,10.1],[1.64,9.2],[1.97,8.3],[1.41,8.5],[0.05,6.1],[2.0,3.2]
];
const femTapNonFit = [0.07, -0.2];
const femTapNonSmooth = [
  [-3.4,2.8],[-3.2,2.2],[-3.15,1.2],[-3.1,2.4],[-3.05,1.0],[-3.0,2.2],[-2.95,0.6],[-2.9,1.6],[-2.85,0],[-2.8,1.0],[-2.75,-0.4],[-2.7,0.8],[-2.65,-0.2],[-2.6,1.2],[-2.55,0.2],[-2.5,1.0],[-2.45,-0.4],[-2.4,0.4],[-2.35,-1.0],[-2.3,0],[-2.25,-0.6],[-2.2,0.8],[-2.15,-0.2],[-2.1,1.2],[-2.05,0.4],[-2.0,1.8],[-1.95,0.8],[-1.9,2.2],[-1.85,1.2],[-1.8,2.0],[-1.7,1.6],[-1.55,1.8],
  [-0.98,1.1],[-0.47,0.2],
  [-0.2,-0.2],[-0.15,-1.0],[-0.1,0.2],[-0.05,-0.8],[0.0,0.6],[0.05,-0.4],[0.1,0.8],[0.15,-0.2],[0.2,1.0],[0.25,-0.2],[0.3,0.8],[0.35,-0.6],[0.4,0.6],[0.45,-0.8],[0.5,0.4],[0.55,-1.0],[0.6,0.4],[0.65,-0.6],[0.7,0.8],[0.75,-0.2],[0.8,1.2],[0.85,0],[0.9,1.4],[0.95,0.2],[1.0,1.0],[1.05,-0.4],[1.1,0.6],[1.15,-0.8],[1.2,0.4],[1.25,-0.6],[1.3,0.6],[1.35,-0.4],[1.4,0.8],[1.45,-0.2],[1.5,0.8],[1.55,-0.4],[1.6,0.6],[1.65,-0.4],[1.7,0.6],[1.75,-0.4],[1.8,0.4],[1.9,0],
  [3.14,-0.4],[5.2,-1.2],[7.26,-2],[8.81,-2.5]
];

// ---------- Finger Tapping non-dominant, males ----------
const maleTapNonPts = [
  [-3.2,-3],[-3.15,2],[-3.1,-6],[-3.05,0],[-3.0,-9],[-2.95,4],[-2.9,-2],[-2.85,7],[-2.8,-5],[-2.75,1],[-2.7,-8],[-2.65,5],[-2.6,-1],[-2.55,-4],[-2.5,3],[-2.45,-7],[-2.4,8],[-2.35,0],[-2.3,-3],[-2.25,5],[-2.2,-9],[-2.15,2],[-2.1,-5],[-2.05,6],[-2.0,-1],[-1.95,-7],[-1.9,3],[-1.85,-3],[-1.8,1],[-1.75,-6],[-1.7,4],[-1.65,-2],
  [-3.12,-7.5],[-2.98,-4.5],[-2.82,2.5],[-2.68,-3],[-2.52,-6],[-2.38,5],[-2.22,-1.5],[-2.08,-8],[-1.92,6],[-1.78,-4],
  [-3.05,4.5],[-2.92,-10],[-2.78,-11],[-2.62,2],[-2.48,-10],[-2.32,1.5],[-2.18,-11.5],[-2.02,2.5],[-1.88,-9],[-1.72,-8.5],
  [-2.88,-6.5],[-2.72,5.5],[-2.58,-8],[-2.42,-2],[-2.28,-6.5],[-2.12,7],[-1.98,-4.5],[-1.82,-10],[-2.65,9],[-2.45,-12],[-2.2,-10],[-2.7,-10],
  [-3.15,-1],[-2.95,-1],[-2.75,-2],[-2.55,0],[-2.35,-1.5],[-2.15,0],[-1.95,-1],[-1.75,-1.5],[-3.05,-4],[-2.85,-4],[-2.65,-5],[-2.45,-4],[-2.25,-4.5],[-2.05,-3],[-1.85,-6],
  [-3.0,2],[-2.8,4.5],[-2.6,3.5],[-2.4,2.5],[-2.2,3.5],[-2.0,4],[-1.8,3],[-2.9,-8],[-2.6,-6.5],[-2.35,-9],[-2.1,-7],[-1.9,-11],[-2.5,6.5],[-2.3,7.5],[-2.0,8],
  [-3.1,-4.5],[-2.9,-5.5],[-2.7,-6],[-2.5,-5],[-2.3,-5.5],[-2.1,-3.5],[-1.9,-4.5],[-3.0,-1.5],[-2.8,-2.5],[-2.6,-2.5],[-2.4,-1],[-2.2,-2.5],[-2.0,-2.5],[-1.8,-2.5],
  [-2.9,1.5],[-2.7,2.5],[-2.5,1],[-2.3,3],[-2.1,4.5],[-1.9,1.5],[-3.0,-7.5],[-2.8,-8.5],[-2.55,-9.5],[-2.3,-8],[-2.05,-9.5],[-1.75,-7.5],
  [0.15,10.4],[0.5,10.7],[0.85,10.2],[1.2,10.6],[1.5,10.3],
  [-0.1,9.1],[0.22,9.4],[0.55,9.0],[0.9,9.3],[1.22,9.1],[1.55,9.4],[1.85,9.0],
  [0.05,7.8],[0.38,8.1],[0.7,7.7],[1.02,8.0],[1.35,7.8],[1.68,8.1],[1.98,7.7],
  [-0.15,6.5],[0.18,6.8],[0.5,6.4],[0.82,6.7],[1.15,6.5],[1.48,6.8],[1.8,6.4],
  [0.02,5.2],[0.35,5.4],[0.68,5.1],[1.0,5.5],[1.32,5.2],[1.65,5.4],[1.95,5.1],
  [-0.12,3.9],[0.2,4.1],[0.52,3.8],[0.85,4.2],[1.18,3.9],[1.5,4.1],[1.82,3.8],
  [0.05,2.6],[0.38,2.8],[0.7,2.5],[1.02,2.9],[1.35,2.6],[1.68,2.8],[1.98,2.5],
  [-0.15,1.3],[0.2,1.5],[0.52,1.2],[0.85,1.6],[1.18,1.3],[1.5,1.5],[1.82,1.2],
  [0.05,0.0],[0.38,0.2],[0.7,-0.1],[1.02,0.3],[1.35,0.0],[1.68,0.2],[1.98,-0.1],
  [-0.12,-1.1],[0.2,-1.3],[0.52,-1.0],[0.85,-1.4],[1.18,-1.1],[1.5,-1.3],[1.82,-1.0],
  [0.05,-2.4],[0.38,-2.6],[0.7,-2.3],[1.02,-2.7],[1.35,-2.4],[1.68,-2.6],[1.98,-2.3],
  [-0.1,-3.7],[0.22,-3.9],[0.55,-3.6],[0.88,-4.0],[1.2,-3.7],[1.52,-3.9],[1.85,-3.6],
  [0.05,-5.0],[0.38,-5.2],[0.7,-4.9],[1.02,-5.3],[1.35,-5.0],[1.68,-5.2],
  [-0.05,-6.3],[0.25,-6.5],[0.58,-6.2],[0.9,-6.6],[1.22,-6.3],[1.55,-6.5],[1.88,-6.2],
  [0.1,-7.6],[0.42,-7.8],[0.75,-7.5],[1.08,-7.9],[1.4,-7.6],[1.72,-7.8],
  [0.0,-8.9],[0.3,-9.1],[0.62,-8.8],[0.95,-9.2],[1.28,-8.9],[1.6,-9.1],
  [0.2,-10.2],[0.52,-10.4],[0.85,-10.1],[1.18,-10.5],[1.5,-10.2],
  [0.35,9.9],[1.05,9.7],[0.2,8.5],[0.85,8.6],[1.5,8.7],[0.35,7.2],[1.0,7.3],[1.65,7.1],[0.18,5.9],[0.85,6.0],[1.48,5.8],[0.5,4.6],[1.15,4.7],[1.8,4.5],[0.2,3.3],[0.85,3.4],[1.5,3.2],
  [0.38,2.0],[1.02,2.1],[1.65,1.9],[0.2,0.7],[0.85,0.8],[1.5,0.6],[0.38,-0.6],[1.02,-0.5],[1.68,-0.7],[0.2,-1.9],[0.85,-1.8],[1.5,-2.0],[0.38,-3.2],[1.02,-3.1],[1.68,-3.3],
  [0.2,-4.5],[0.85,-4.4],[1.5,-4.6],[0.4,-5.8],[1.05,-5.7],[1.7,-5.9],[0.25,-7.0],[0.9,-7.1],[1.55,-6.9],[0.45,-8.4],[1.1,-8.3],[0.75,-9.7],[1.4,-9.6],
  [0.0,10.2],[0.7,10.8],[1.35,10.5],[1.7,10.0],[0.05,9.7],[0.4,9.2],[0.72,9.4],[1.05,9.2],[1.38,9.5],[1.7,9.2],[-0.08,8.0],[0.22,7.8],[0.55,8.0],[0.88,7.8],[1.2,8.1],[1.52,7.8],[1.85,8.0],
  [0.0,6.6],[0.35,6.4],[0.68,6.7],[1.0,6.4],[1.32,6.7],[1.65,6.5],[1.95,6.6],[-0.12,5.3],[0.18,5.2],[0.52,5.4],[0.85,5.2],[1.18,5.4],[1.5,5.2],[1.82,5.3],
  [0.02,4.0],[0.35,3.9],[0.68,4.1],[1.02,3.9],[1.35,4.1],[1.68,3.9],[1.98,4.0],[-0.1,2.7],[0.2,2.6],[0.52,2.8],[0.85,2.6],[1.18,2.8],[1.5,2.6],[1.82,2.7],
  [0.05,1.4],[0.35,1.3],[0.7,1.5],[1.02,1.3],[1.35,1.5],[1.68,1.3],[1.98,1.4],[-0.12,0.1],[0.2,0.0],[0.52,0.2],[0.85,0.0],[1.18,0.2],[1.5,0.0],[1.82,0.1],
  [0.05,-1.2],[0.38,-1.1],[0.7,-1.3],[1.02,-1.1],[1.35,-1.3],[1.68,-1.1],[1.98,-1.2],[-0.1,-2.5],[0.22,-2.4],[0.55,-2.6],[0.88,-2.4],[1.2,-2.6],[1.52,-2.4],[1.85,-2.5],
  [0.05,-3.8],[0.38,-3.7],[0.7,-3.9],[1.02,-3.7],[1.35,-3.9],[1.68,-3.7],[1.98,-3.8],[-0.05,-5.1],[0.25,-5.0],[0.58,-5.2],[0.9,-5.0],[1.22,-5.2],[1.55,-5.0],[1.85,-5.1],
  [0.1,-6.4],[0.42,-6.3],[0.75,-6.5],[1.08,-6.3],[1.4,-6.5],[1.72,-6.3],[0.0,-7.7],[0.3,-7.6],[0.62,-7.8],[0.95,-7.6],[1.28,-7.8],[1.6,-7.6],[1.9,-7.7],
  [0.2,-9.0],[0.52,-8.9],[0.85,-9.1],[1.18,-8.9],[1.5,-9.1],[0.38,-10.4],[1.0,-10.3],
  [0.2,10.4],[0.55,10.2],[1.0,10.5],[1.3,9.8],[1.55,9.7],[0.1,8.9],[0.45,8.6],[0.8,9.0],[1.12,8.6],[1.45,9.0],[1.8,8.5],
  [0.2,7.4],[0.55,7.3],[0.85,7.5],[1.2,7.3],[1.5,7.5],[1.85,7.2],[0.05,6.0],[0.35,5.8],[0.68,6.1],[1.0,5.9],[1.32,6.2],[1.65,5.8],[1.92,6.0],
  [0.15,4.6],[0.45,4.4],[0.78,4.7],[1.1,4.5],[1.42,4.8],[1.72,4.4],[0.0,3.3],[0.32,3.2],[0.62,3.5],[0.95,3.2],[1.28,3.4],[1.62,3.2],[1.92,3.4],
  [0.15,2.0],[0.48,2.2],[0.8,1.9],[1.12,2.1],[1.45,1.8],[1.78,2.1],[0.0,0.7],[0.32,0.5],[0.62,0.8],[0.95,0.6],[1.28,0.9],[1.6,0.5],[1.92,0.8],
  [0.15,-0.6],[0.48,-0.4],[0.82,-0.7],[1.15,-0.5],[1.48,-0.8],[1.8,-0.5],[0.0,-1.9],[0.32,-1.7],[0.65,-2.0],[0.98,-1.8],[1.3,-2.1],[1.62,-1.8],[1.92,-2.0],
  [0.15,-3.2],[0.48,-3.0],[0.8,-3.3],[1.12,-3.1],[1.45,-3.4],[1.78,-3.1],[0.0,-4.5],[0.32,-4.3],[0.65,-4.6],[0.98,-4.4],[1.3,-4.7],[1.62,-4.4],[1.92,-4.6],
  [0.15,-5.8],[0.48,-5.6],[0.8,-5.9],[1.12,-5.7],[1.45,-6.0],[1.78,-5.7],[0.05,-7.0],[0.38,-7.2],[0.7,-6.9],[1.02,-7.2],[1.35,-6.9],[1.68,-7.2],
  [0.15,-8.4],[0.48,-8.2],[0.8,-8.5],[1.12,-8.3],[1.45,-8.5],[1.75,-8.2],[0.35,-9.7],[0.68,-9.5],[1.05,-9.8],[1.3,-9.6],
  [0.51,20],[0.93,16.8],[0.99,15.6],[0.93,14.3],[-2.23,12.4],[-0.23,12.3],[-0.32,10.1],[-0.07,10.6],[0.5,11.2],[1.13,11.3],[2.29,9.7],[2.8,9.4],[3.82,11.7],[3.7,8.6],[3.1,4.4],[3.48,3.5],[7.84,9.7],
  [3.95,0.7],[5.1,0.2],[5.91,0.8],[6.45,0.5],[4.58,-3.7],[8.18,-3.5],[8.87,-5.5],[2.48,-4.8],[-0.35,-2.5],[-0.25,-11.9],[0.57,-13.4],[0.69,-13.8],[1.03,-12.8],[0.63,-10.6],[1.37,-9.7],[1.71,-10.1],[1.94,-7.8],
  [-2.46,-10.6],[-2.13,-11.7],[-2.3,-9.7],[-1.81,-9.5],[-1.39,-8.3],[-1.33,-8.9],[-3.27,3.1],[-3.08,6.2],[-2.96,8.9],[-2.65,9.7],[-1.67,8.7],[-1.62,7.6],[-1.52,4.4],[-1.23,2.3],[-1.05,2.3],[-1.25,-2.5],[-1.4,-2.2],[-1.46,-7],
  [1.97,5.7],[2.12,4.2],[2.22,-3.4],[1.98,-6],[1.86,-7.3],
  [-2.55,9.2],[-2.44,8.5],[-1.72,9.2],[-1.67,8.5],[-1.31,2.5],[-1.1,2.1],[-1.26,-2.1],[-1.36,-0.7],[-1.41,-5.6],[-1.36,-8.5],[-1.47,-9.9],[-2.44,-11.3],[-2.29,-10.3],[-2.13,-12],[-1.82,-9.9],
  [-3.21,-2.8],[-3.11,-4.9],[-2.96,-6.4],[0.13,-9.6],[0.29,-10.6],[1.37,-10],[1.63,-9.8],[1.73,-10.6],[1.94,-8.5],[1.89,-6.4],[2.45,-4.6],[2.04,-2.5],[1.89,5.7],[2.14,5],[2.04,3.2],
  [-0.33,10.1],[0.49,11.2],[1.16,11.3],[0.6,-13.6],[1.01,-12.9]
];
const maleTapNonFit = [0.12, 0.26];
const maleTapNonSmooth = [
  [-3.22,-2.5],[-3.15,-1.2],[-3.1,-2.0],[-3.05,-0.6],[-3.0,-1.4],[-2.95,0.2],[-2.9,-0.8],[-2.85,0.8],[-2.8,-0.2],[-2.75,1.2],[-2.7,0.2],[-2.65,1.4],[-2.6,0.2],[-2.55,1.0],[-2.5,-0.2],[-2.45,0.6],[-2.4,-0.6],[-2.35,0.2],[-2.3,-1.0],[-2.25,-0.2],[-2.2,-1.4],[-2.15,-0.6],[-2.1,-1.8],[-2.05,-1.0],[-2.0,-2.2],[-1.95,-1.2],[-1.9,-2.4],[-1.85,-1.6],[-1.8,-2.2],[-1.75,-1.0],[-1.7,-1.8],[-1.62,-1.1],
  [-1.36,0.3],[-1.1,-0.6],[-0.59,-0.2],
  [-0.2,0.8],[-0.15,-0.4],[-0.1,1.0],[-0.05,-0.2],[0.0,0.8],[0.05,-0.6],[0.1,0.6],[0.15,-0.8],[0.2,0.6],[0.25,-0.4],[0.3,1.0],[0.35,0.2],[0.4,1.8],[0.45,0.6],[0.5,2.0],[0.55,0.4],[0.6,1.4],[0.65,-0.2],[0.7,1.0],[0.75,0],[0.8,1.8],[0.85,0.8],[0.9,3.0],[0.95,1.2],[1.0,2.0],[1.05,0.2],[1.1,1.0],[1.15,-0.4],[1.2,0.6],[1.25,-0.6],[1.3,0.4],[1.35,-0.8],[1.4,0.2],[1.45,-1.0],[1.5,0],[1.55,-1.2],[1.6,-0.4],[1.65,-1.4],[1.7,-0.6],[1.78,-1.4],[1.9,-0.8],
  [2.2,0],[2.81,1],[3.53,1],[5.08,1.2],[7.14,1.2],[8.89,1.3]
];
const maleTapNonMark = [0.88, 43.5];

// ---------- page layout ----------
const FONT = '"Liberation Sans", Arial, Helvetica, sans-serif';
const rowTops = [72, 554, 1036];
const plotH = 297;
const colX = [[86, 515], [639, 1064]];

const panels = [
  { row: 0, col: 0, xDom: [-3.887, 9.244], yDom: [-71.5, 205.4], yTicks: pegTicks,
    pts: femPegPts, fit: femPegFit, smooth: femPegSmooth, mark: null, legendY: null },
  { row: 0, col: 1, xDom: [-3.935, 9.10], yDom: [-71.5, 205.4], yTicks: pegTicks,
    pts: malePegPts, fit: malePegFit, smooth: malePegSmooth, mark: malePegMark, legendY: 125 },
  { row: 1, col: 0, xDom: [-3.92, 9.32], yDom: [-26.1, 63.0], yTicks: tapDomTicks,
    pts: femTapDomPts, fit: femTapDomFit, smooth: femTapDomSmooth, mark: null, legendY: null },
  { row: 1, col: 1, xDom: [-3.959, 9.19], yDom: [-26.1, 63.0], yTicks: tapDomTicks,
    pts: maleTapDomPts, fit: maleTapDomFit, smooth: maleTapDomSmooth, mark: maleTapDomMark, legendY: 113 },
  { row: 2, col: 0, xDom: [-3.886, 9.375], yDom: [-17.26, 45.8], yTicks: tapNonTicks,
    pts: femTapNonPts, fit: femTapNonFit, smooth: femTapNonSmooth, mark: null, legendY: null },
  { row: 2, col: 1, xDom: [-3.91, 9.22], yDom: [-17.26, 45.8], yTicks: tapNonTicks,
    pts: maleTapNonPts, fit: maleTapNonFit, smooth: maleTapNonSmooth, mark: maleTapNonMark, legendY: 110 }
];

const svg = d3.select("#fig").style("font-family", FONT);
svg.append("rect").attr("width", 1065).attr("height", 1414).attr("fill", "#fff");
const defs = svg.append("defs");
const ORANGE = "#ff7f00";

// row titles, sex headers and y-axis titles
rowTitles.forEach((t, r) => {
  svg.append("text").attr("x", 602.5).attr("y", rowTops[r] - 41)
    .attr("text-anchor", "middle").attr("font-size", 29.8).text(t);
  sexLabels.forEach((s, c) => {
    svg.append("text").attr("x", colX[c][0] + 429 / 2).attr("y", rowTops[r] - 10)
      .attr("text-anchor", "middle").attr("font-size", 29.5).text(s);
  });
  svg.append("text")
    .attr("transform", `translate(27,${rowTops[r] + plotH / 2}) rotate(-90)`)
    .attr("text-anchor", "middle").attr("font-size", 20).text(yTitle);
});

panels.forEach((p, i) => {
  const x0 = colX[p.col][0], x1 = colX[p.col][1];
  const y0 = rowTops[p.row], y1 = y0 + plotH;
  const x = d3.scaleLinear().domain(p.xDom).range([x0, x1]);
  const y = d3.scaleLinear().domain(p.yDom).range([y1, y0]);
  const g = svg.append("g");

  const clipId = "plotclip" + i;
  defs.append("clipPath").attr("id", clipId).append("rect")
    .attr("x", x0).attr("y", y0).attr("width", x1 - x0).attr("height", y1 - y0);
  const plot = g.append("g").attr("clip-path", `url(#${clipId})`);

  // observations
  plot.append("g").selectAll("circle").data(p.pts).join("circle")
    .attr("cx", d => x(d[0])).attr("cy", d => y(d[1])).attr("r", 4.3)
    .attr("fill", "none").attr("stroke", "#000").attr("stroke-width", 1.1);

  // least-squares line across the plotting region
  const [a, b] = p.fit;
  plot.append("line")
    .attr("x1", x(p.xDom[0])).attr("y1", y(a + b * p.xDom[0]))
    .attr("x2", x(p.xDom[1])).attr("y2", y(a + b * p.xDom[1]))
    .attr("stroke", "#000").attr("stroke-width", 1.1);

  // reference line at zero
  plot.append("line")
    .attr("x1", x0).attr("x2", x1).attr("y1", y(0)).attr("y2", y(0))
    .attr("stroke", "#000").attr("stroke-width", 1.3).attr("stroke-dasharray", "1.5,3.5");

  // scatterplot smoother
  plot.append("path").datum(p.smooth)
    .attr("d", d3.line().x(d => x(d[0])).y(d => y(d[1])))
    .attr("fill", "none").attr("stroke", ORANGE).attr("stroke-width", 5.5)
    .attr("stroke-dasharray", "14,6,3,6").attr("stroke-linejoin", "round");

  // highlighted participant
  if (p.mark) {
    g.append("path").attr("d", d3.symbol(d3.symbolSquare, 272)())
      .attr("transform", `translate(${x(p.mark[0])},${y(p.mark[1])}) rotate(45)`)
      .attr("fill", "#008000");
  }

  // frame
  g.append("rect").attr("x", x0).attr("y", y0).attr("width", x1 - x0).attr("height", y1 - y0)
    .attr("fill", "none").attr("stroke", "#000").attr("stroke-width", 1.2);

  // axes
  const xa = g.append("g").attr("transform", `translate(0,${y1})`)
    .call(d3.axisBottom(x).tickValues(xTicks).tickSize(7).tickPadding(33).tickFormat(d => String(d)));
  xa.select(".domain").remove();
  xa.attr("font-family", FONT).attr("font-size", 18);
  xa.selectAll("line").attr("stroke", "#000").attr("stroke-width", 1.2);
  xa.selectAll("text").attr("fill", "#000").attr("dy", 0);

  const ya = g.append("g").attr("transform", `translate(${x0},0)`)
    .call(d3.axisLeft(y).tickValues(p.yTicks).tickSize(7).tickFormat(d => String(d)));
  ya.select(".domain").remove();
  ya.attr("font-family", FONT).attr("font-size", 18);
  ya.selectAll("line").attr("stroke", "#000").attr("stroke-width", 1.2);
  ya.selectAll("text").attr("x", null).attr("dy", null).attr("fill", "#000")
    .attr("text-anchor", "middle").attr("transform", "translate(-21,0) rotate(-90)");

  // x axis title
  g.append("text").attr("x", x0 + 429 / 2).attr("y", y1 + 75)
    .attr("text-anchor", "middle").attr("font-size", 14.8).text(xTitle);

  // legend
  if (p.legendY !== null) {
    const leg = g.append("g").attr("transform", `translate(${x0},${y0 + p.legendY})`);
    legendLabels.forEach((lab, k) => {
      leg.append("text").attr("x", 350).attr("y", k * 12.5 + 2.5)
        .attr("dominant-baseline", "central").attr("text-anchor", "end")
        .attr("font-size", 11.6).attr("fill", "#222").text(lab);
    });
    leg.append("line").attr("x1", 374).attr("x2", 410).attr("y1", 0).attr("y2", 0)
      .attr("stroke", "#000").attr("stroke-width", 1.1);
    leg.append("line").attr("x1", 376).attr("x2", 408).attr("y1", 12.5).attr("y2", 12.5)
      .attr("stroke", ORANGE).attr("stroke-width", 6).attr("stroke-linecap", "round");
    leg.append("line").attr("x1", 376).attr("x2", 410).attr("y1", 25).attr("y2", 25)
      .attr("stroke", "#000").attr("stroke-width", 1.3).attr("stroke-dasharray", "1.5,8.5");
  }
});
</script>
</body>
</html>
